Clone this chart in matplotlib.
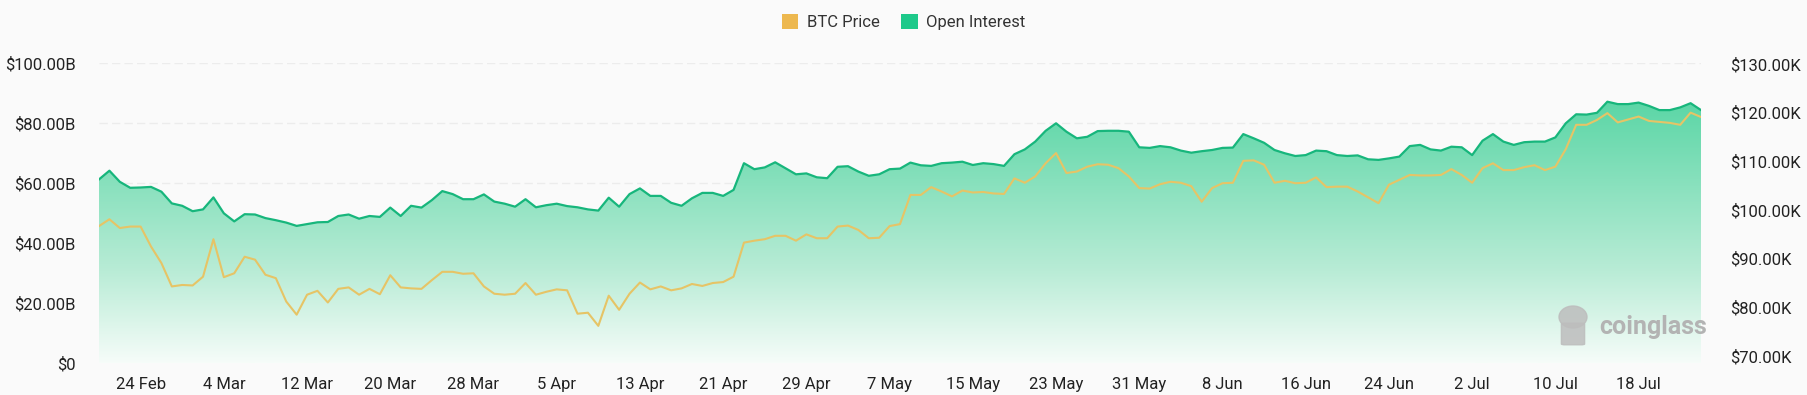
import numpy as np
import pandas as pd
import matplotlib
matplotlib.use("Agg")
import matplotlib.pyplot as plt
import matplotlib.dates as mdates
from matplotlib.patches import Patch, Ellipse, FancyBboxPatch
from matplotlib.colors import LinearSegmentedColormap
from matplotlib.ticker import FuncFormatter

# daily values, 20 Feb 2025 .. 24 Jul 2025
dates = pd.date_range("2025-02-20", "2025-07-24", freq="D")

open_interest_b = [
    61.2, 64.1, 60.4, 58.4, 58.5, 58.7, 57.1, 53.2, 52.4, 50.6,
    51.2, 55.2, 49.9, 47.2, 49.6, 49.5, 48.3, 47.6, 46.8, 45.7,
    46.3, 46.9, 47.0, 49.0, 49.5, 48.1, 49.0, 48.7, 51.8, 49.0,
    52.4, 51.8, 54.3, 57.3, 56.3, 54.6, 54.6, 56.2, 53.8, 53.1,
    52.1, 54.6, 51.9, 52.6, 53.1, 52.3, 51.9, 51.2, 50.8, 55.1,
    52.1, 56.3, 58.2, 55.7, 55.7, 53.4, 52.4, 54.9, 56.7, 56.7,
    55.7, 57.7, 66.6, 64.6, 65.2, 66.9, 64.9, 62.9, 63.2, 61.9,
    61.6, 65.4, 65.6, 63.8, 62.4, 62.9, 64.6, 64.8, 66.8, 65.9,
    65.7, 66.6, 66.8, 67.1, 66.0, 66.6, 66.3, 65.7, 69.6, 71.2,
    73.8, 77.4, 79.9, 77.1, 74.9, 75.4, 77.3, 77.4, 77.4, 77.1,
    71.9, 71.7, 72.3, 71.9, 70.8, 70.1, 70.6, 71.0, 71.7, 71.8,
    76.3, 74.9, 73.4, 71.0, 69.9, 69.0, 69.3, 70.8, 70.6, 69.3,
    69.0, 69.2, 67.9, 67.7, 68.2, 68.8, 72.3, 72.7, 71.2, 70.8,
    72.1, 71.9, 69.3, 74.1, 76.3, 73.8, 72.7, 73.6, 73.8, 73.8,
    75.2, 79.9, 82.9, 82.8, 83.4, 87.1, 86.3, 86.3, 86.8, 85.7,
    84.3, 84.3, 85.2, 86.6, 84.3,
]

btc_price_k = [
    96.7, 98.1, 96.3, 96.6, 96.6, 92.5, 89.1, 84.3, 84.6, 84.5,
    86.3, 94.0, 86.2, 87.0, 90.4, 89.8, 86.7, 86.0, 81.2, 78.5,
    82.6, 83.4, 81.0, 83.8, 84.1, 82.6, 83.8, 82.7, 86.6, 84.1,
    83.9, 83.8, 85.6, 87.3, 87.3, 86.9, 87.0, 84.3, 82.8, 82.6,
    82.8, 85.0, 82.6, 83.2, 83.7, 83.5, 78.7, 78.9, 76.2, 82.4,
    79.5, 82.8, 85.1, 83.7, 84.3, 83.5, 83.9, 84.8, 84.4, 85.0,
    85.2, 86.3, 93.3, 93.7, 94.0, 94.7, 94.7, 93.7, 95.0, 94.2,
    94.2, 96.6, 96.8, 95.9, 94.2, 94.3, 96.7, 97.1, 103.1, 103.1,
    104.7, 103.8, 102.8, 104.0, 103.6, 103.7, 103.4, 103.3, 106.5, 105.6,
    106.9, 109.6, 111.7, 107.6, 107.9, 108.9, 109.4, 109.3, 108.6, 106.9,
    104.5, 104.4, 105.3, 105.8, 105.6, 104.9, 101.7, 104.5, 105.5, 105.6,
    110.1, 110.2, 109.3, 105.6, 106.0, 105.5, 105.6, 106.7, 104.7, 104.8,
    104.8, 103.8, 102.6, 101.4, 105.2, 106.2, 107.2, 107.1, 107.1, 107.2,
    108.4, 107.2, 105.6, 108.6, 109.6, 108.2, 108.2, 108.8, 109.2, 108.2,
    108.9, 112.5, 117.5, 117.5, 118.5, 119.9, 118.0, 118.6, 119.2, 118.3,
    118.1, 117.9, 117.5, 120.0, 119.1,
]

xtick_dates = pd.date_range("2025-02-24", "2025-07-18", freq="8D")
xtick_labels = ["24 Feb", "4 Mar", "12 Mar", "20 Mar", "28 Mar", "5 Apr",
                "13 Apr", "21 Apr", "29 Apr", "7 May", "15 May", "23 May",
                "31 May", "8 Jun", "16 Jun", "24 Jun", "2 Jul", "10 Jul", "18 Jul"]
left_ticks = [0, 20, 40, 60, 80, 100]
right_ticks = [70, 80, 90, 100, 110, 120, 130]

BG = "#fafafa"
GREEN = "#1dc98a"
GREEN_LINE = "#17b67c"
GOLD = "#edb84f"
GOLD_LINE = "#e6c466"
TEXT = "#222222"

plt.rcParams["font.family"] = ["Roboto", "DejaVu Sans"]

fig = plt.figure(figsize=(18.07, 3.95), dpi=100, facecolor=BG)
ax = fig.add_axes([99 / 1807, 1 - 363 / 395, 1602 / 1807, 300 / 395])
ax.set_facecolor(BG)

x = mdates.date2num(dates)
oi = np.array(open_interest_b)
btc = np.array(btc_price_k)

# gradient area under open interest
poly = ax.fill_between(x, 0, oi, color="none", lw=0)
grad_cmap = LinearSegmentedColormap.from_list(
    "oi", [(0.0, "#f6fcf9"), (0.35, "#b9ecd6"), (1.0, "#5bd6a6")])
grad = np.linspace(0, 1, 256).reshape(-1, 1)
im = ax.imshow(grad, extent=[x[0], x[-1], 0, oi.max()], origin="lower",
               aspect="auto", cmap=grad_cmap, zorder=1)
im.set_clip_path(poly.get_paths()[0], transform=ax.transData)
ax.plot(x, oi, color=GREEN_LINE, lw=1.6, zorder=3, solid_joinstyle="round")

ax.set_xlim(x[0], x[-1])
ax.set_ylim(0, 100)
ax.set_yticks(left_ticks)
ax.yaxis.set_major_formatter(FuncFormatter(lambda v, p: "$0" if v == 0 else f"${v:.2f}B"))
ax.set_xticks(mdates.date2num(xtick_dates))
ax.set_xticklabels(xtick_labels)
ax.grid(axis="y", color="#ececec", lw=1, ls=(0, (6, 3)), zorder=0)
ax.set_axisbelow(True)
for s in ax.spines.values():
    s.set_visible(False)
ax.tick_params(axis="both", length=0, colors=TEXT, labelsize=12)
ax.tick_params(axis="y", pad=17)
ax.tick_params(axis="x", pad=10)

ax2 = ax.twinx()
ax2.plot(x, btc, color=GOLD_LINE, lw=1.5, zorder=4, solid_joinstyle="round")
ax2.set_ylim(68.57, 130.2)
ax2.set_yticks(right_ticks)
ax2.yaxis.set_major_formatter(FuncFormatter(lambda v, p: f"${v:.2f}K"))
for s in ax2.spines.values():
    s.set_visible(False)
ax2.tick_params(axis="y", length=0, colors=TEXT, labelsize=12, pad=21)

# legend
handles = [Patch(facecolor=GOLD, edgecolor="none", label="BTC Price"),
           Patch(facecolor=GREEN, edgecolor="none", label="Open Interest")]
fig.legend(handles=handles, loc="center", bbox_to_anchor=(0.5, 1 - 22 / 395),
           ncol=2, frameon=False, fontsize=12, handlelength=1.0,
           handleheight=1.0, handletextpad=0.5, columnspacing=1.3,
           labelcolor="#333333")

# watermark
fig.text(1599 / 1807, 1 - 327 / 395, "coinglass", color="#b3b3b3",
         fontsize=18, fontweight="bold", va="center", ha="left")
fig.patches.append(Ellipse((1573 / 1807, 1 - 317 / 395), 28 / 1807, 22 / 395,
                           transform=fig.transFigure, color="#bdbdbd", alpha=0.85))
fig.patches.append(FancyBboxPatch((1565 / 1807, 1 - 344 / 395), 16 / 1807, 20 / 395,
                                  boxstyle="round,pad=0.002", transform=fig.transFigure,
                                  color="#bdbdbd", alpha=0.85))

fig.savefig("out.png", dpi=100, facecolor=BG)
